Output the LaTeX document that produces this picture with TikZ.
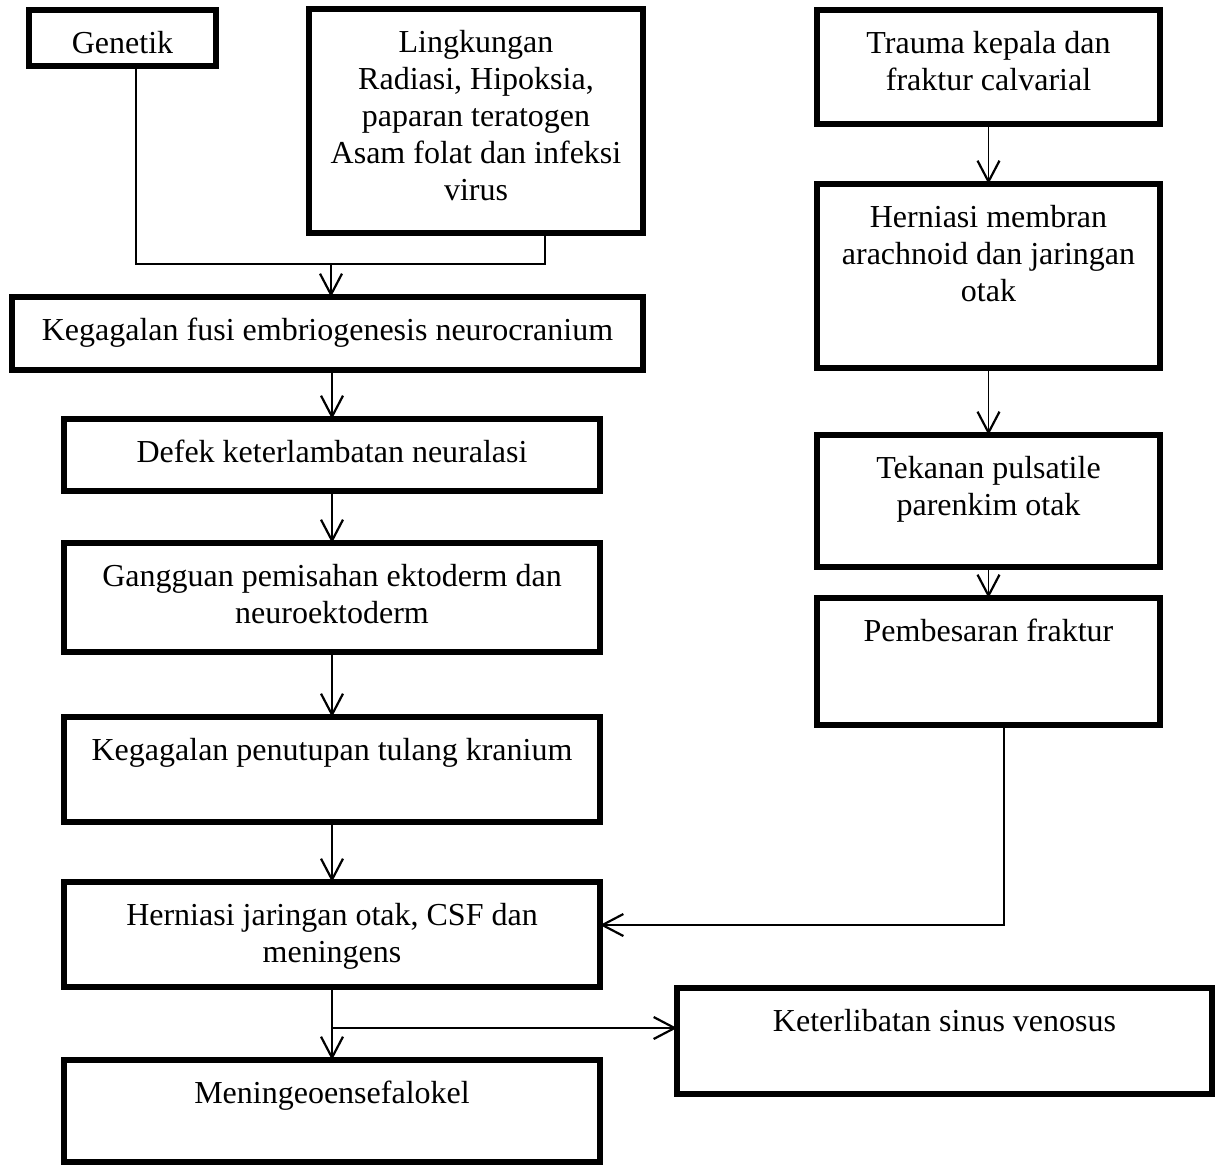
\documentclass[tikz,border=0pt]{standalone}
\usepackage{fontspec}
\setmainfont{Liberation Serif}
\usetikzlibrary{arrows.meta,calc}
\tikzset{
  boxsty/.style={draw, rectangle, line width=2.6pt, inner sep=0pt, outer sep=0pt},
  txtsty/.style={align=center, inner sep=0pt, font=\fontsize{16pt}{18.5pt}\selectfont},
  conn/.style={line width=0.9pt},
  arr/.style={line width=0.9pt, -{Straight Barb[length=10.5pt,width=11pt,line width=1.1pt]}}
}
\newcommand{\flowbox}[6]{%
  \node[boxsty, minimum width={(#4-#2)*0.5pt}, minimum height={(#5-#3)*0.5pt}] (#1) at ({(#2+#4)/2},{(#3+#5)/2}) {};
  \node[txtsty, anchor=north] (#1-t) at ({(#2+#4)/2},{#3+17}) {\strut #6};}
\begin{document}
\begin{tikzpicture}[x=0.5pt,y=-0.5pt]
\useasboundingbox (0,0) rectangle (1220,1169);
% left column
\flowbox{gen}{29}{10}{216}{66}{Genetik}
\flowbox{ling}{309}{9}{643}{233}{Lingkungan\\Radiasi, Hipoksia,\\paparan teratogen\\Asam folat dan infeksi\\virus}
\flowbox{fusi}{12}{297}{643}{370}{Kegagalan fusi embriogenesis neurocranium}
\flowbox{defek}{64}{419}{600}{491}{Defek keterlambatan neuralasi}
\flowbox{gang}{64}{543}{600}{652}{Gangguan pemisahan ektoderm dan\\neuroektoderm}
\flowbox{tutup}{64}{717}{600}{822}{Kegagalan penutupan tulang kranium}
\flowbox{hernJ}{64}{882}{600}{987}{Herniasi jaringan otak, CSF dan\\meningens}
\flowbox{men}{64}{1060}{600}{1162}{Meningeoensefalokel}
% right column
\flowbox{trauma}{817}{10}{1160}{124}{Trauma kepala dan\\fraktur calvarial}
\flowbox{hernM}{817}{184}{1160}{368}{Herniasi membran\\arachnoid dan jaringan\\otak}
\flowbox{tek}{817}{435}{1160}{567}{Tekanan pulsatile\\parenkim otak}
\flowbox{pemb}{817}{598}{1160}{725}{Pembesaran fraktur}
\flowbox{ket}{677}{988}{1212}{1094}{Keterlibatan sinus venosus}
% junction coordinates
\coordinate (mergeL) at (136,264);
\coordinate (mergeR) at (545,264);
\coordinate (merge) at (331,264);
\coordinate (pbx) at (1004,925);
\coordinate (br) at (331,1028);
% connectors
\draw[conn] (gen.south -| mergeL) -- (mergeL) -- (mergeR) -- (ling.south -| mergeR);
\draw[arr] (merge) -- (fusi.north -| merge);
\draw[arr] (defek.north |- fusi.south) -- (defek.north);
\draw[arr] (defek.south) -- (gang.north);
\draw[arr] (gang.south) -- (tutup.north);
\draw[arr] (tutup.south) -- (hernJ.north);
\draw[arr] (hernJ.south) -- (men.north);
\draw[arr] (br) -- (ket.west |- br);
\draw[arr] (trauma.south) -- (hernM.north);
\draw[arr] (hernM.south) -- (tek.north);
\draw[arr] (tek.south) -- (pemb.north);
\draw[arr] (pemb.south -| pbx) -- (pbx) -- (hernJ.east |- pbx);
\end{tikzpicture}
\end{document}
